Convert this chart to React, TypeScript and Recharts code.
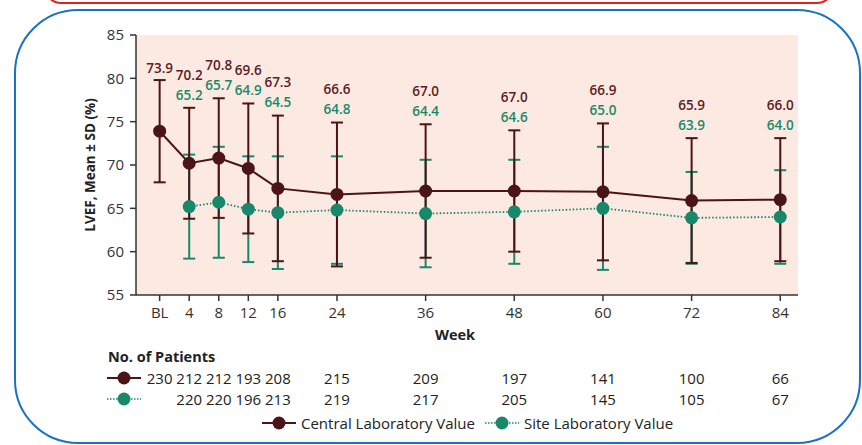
import { LineChart, Line, XAxis, YAxis, CartesianGrid, ErrorBar, LabelList } from "recharts";

// ================= DATA =================
const weeks = [0, 4, 8, 12, 16, 24, 36, 48, 60, 72, 84];
const centralMean = [73.9, 70.2, 70.8, 69.6, 67.3, 66.6, 67.0, 67.0, 66.9, 65.9, 66.0];
const centralSd = [5.9, 6.4, 6.9, 7.5, 8.4, 8.3, 7.7, 7.0, 7.9, 7.2, 7.1];
const siteMean = [null, 65.2, 65.7, 64.9, 64.5, 64.8, 64.4, 64.6, 65.0, 63.9, 64.0];
const siteSd = [null, 6.0, 6.4, 6.1, 6.5, 6.2, 6.2, 6.0, 7.1, 5.3, 5.4];
const centralN = [230, 212, 212, 193, 208, 215, 209, 197, 141, 100, 66];
const siteN = [null, 220, 220, 196, 213, 219, 217, 205, 145, 105, 67];
const yTicks = [55, 60, 65, 70, 75, 80, 85];

// ================= COLORS =================
const CENTRAL = "#4b1416";
const CENTRAL_TEXT = "#5a2126";
const SITE = "#17896a";
const AXIS = "#333333";
const FONT = "'Open Sans', sans-serif";

const data = weeks.map((week, i) => ({
  week,
  central: centralMean[i],
  centralErr: centralSd[i],
  site: siteMean[i],
  siteErr: siteSd[i],
  labelTop: centralMean[i] + centralSd[i],
}));

// value labels stacked above the top of the central error bar
// eslint-disable-next-line
function ValueLabels(props: any) {
  const { x, y, index } = props;
  const s = siteMean[index];
  const c = centralMean[index];
  return (
    <g fontSize={13.5} fontWeight={600} textAnchor="middle">
      {s != null && (
        <text x={x} y={y - 13} dy="0.35em" fill={SITE}>
          {s.toFixed(1)}
        </text>
      )}
      <text x={x} y={y - (s != null ? 33 : 12)} dy="0.35em" fill={CENTRAL_TEXT}>
        {c.toFixed(1)}
      </text>
    </g>
  );
}

function Marker({ color, dotted }: { color: string; dotted?: boolean }) {
  return (
    <svg width={34} height={14} style={{ display: "block" }}>
      <line
        x1={0}
        y1={7}
        x2={34}
        y2={7}
        stroke={color}
        strokeWidth={dotted ? 1.5 : 2}
        strokeDasharray={dotted ? "1.5 1.5" : undefined}
      />
      <circle cx={17} cy={7} r={6.5} fill={color} />
    </svg>
  );
}

export default function App() {
  const weekTick = (v: number) => (v === 0 ? "BL" : String(v));
  const nTick = (arr: (number | null)[]) => (v: number) => {
    const n = arr[weeks.indexOf(v)];
    return n == null ? "" : String(n);
  };

  return (
    <div
      style={{
        position: "absolute",
        left: 0,
        top: 0,
        width: 862,
        height: 445,
        overflow: "hidden",
        background: "#fff",
        fontFamily: FONT,
        color: "#222",
      }}
    >
      {/* frames */}
      <div
        style={{
          position: "absolute",
          left: 44,
          top: -30,
          width: 790,
          height: 34,
          border: "2.5px solid #e3211c",
          borderRadius: 22,
          boxSizing: "border-box",
        }}
      />
      <div
        style={{
          position: "absolute",
          left: 14,
          top: 9,
          width: 847,
          height: 435,
          border: "2.5px solid #1a72c4",
          borderRadius: 64,
          boxSizing: "border-box",
        }}
      />

      <div style={{ position: "absolute", left: 0, top: 0 }}>
        <LineChart
          width={862}
          height={445}
          data={data}
          margin={{ top: 35, right: 64, left: 80, bottom: 31 }}
        >
          <CartesianGrid horizontal={false} vertical={false} fill="#fce9e1" />
          <XAxis
            dataKey="week"
            type="number"
            domain={[-3.2, 86.4]}
            ticks={weeks}
            interval={0}
            tickFormatter={weekTick}
            height={78}
            tickSize={6}
            tickMargin={6}
            stroke={AXIS}
            strokeWidth={1.5}
            tick={{ fill: AXIS, fontSize: 15 }}
            label={({ viewBox }: any) => (
              <text
                x={viewBox.x + viewBox.width / 2 - 12}
                y={viewBox.y + 40}
                dy="0.35em"
                textAnchor="middle"
                fontSize={14.5}
                fontWeight={700}
                fill="#222"
              >
                Week
              </text>
            )}
          />
          <XAxis
            xAxisId="n1"
            dataKey="week"
            type="number"
            domain={[-3.2, 86.4]}
            ticks={weeks}
            interval={0}
            tickFormatter={nTick(centralN)}
            height={21}
            axisLine={false}
            tickLine={false}
            tickSize={0}
            tickMargin={0}
            tick={{ fill: "#222", fontSize: 15 }}
          />
          <XAxis
            xAxisId="n2"
            dataKey="week"
            type="number"
            domain={[-3.2, 86.4]}
            ticks={weeks}
            interval={0}
            tickFormatter={nTick(siteN)}
            height={20}
            axisLine={false}
            tickLine={false}
            tickSize={0}
            tickMargin={0}
            tick={{ fill: "#222", fontSize: 15 }}
          />
          <YAxis
            domain={[55, 85]}
            ticks={yTicks}
            width={56}
            tickSize={6}
            tickMargin={6}
            stroke={AXIS}
            strokeWidth={1.5}
            tick={{ fill: AXIS, fontSize: 15 }}
            label={({ viewBox }: any) => (
              <text
                x={viewBox.x + 10}
                y={viewBox.y + viewBox.height / 2}
                dy="0.35em"
                textAnchor="middle"
                fontSize={13.5}
                fontWeight={700}
                fill="#222"
                transform={`rotate(-90, ${viewBox.x + 10}, ${viewBox.y + viewBox.height / 2})`}
              >
                LVEF, Mean ± SD (%)
              </text>
            )}
          />

          {/* error bars only: site first so central sits on top */}
          <Line
            dataKey="site"
            stroke="none"
            dot={false}
            activeDot={false}
            isAnimationActive={false}
          >
            <ErrorBar dataKey="siteErr" direction="y" width={6} stroke={SITE} strokeWidth={2} />
          </Line>
          <Line
            dataKey="central"
            stroke="none"
            dot={false}
            activeDot={false}
            isAnimationActive={false}
          >
            <ErrorBar dataKey="centralErr" direction="y" width={6} stroke={CENTRAL} strokeWidth={2} />
          </Line>

          {/* series */}
          <Line
            dataKey="site"
            stroke={SITE}
            strokeWidth={1.8}
            strokeDasharray="1.5 2"
            dot={{ r: 6.5, fill: SITE, stroke: SITE, strokeWidth: 0 }}
            activeDot={false}
            isAnimationActive={false}
          />
          <Line
            dataKey="central"
            stroke={CENTRAL}
            strokeWidth={2}
            dot={{ r: 6.5, fill: CENTRAL, stroke: CENTRAL, strokeWidth: 0 }}
            activeDot={false}
            isAnimationActive={false}
          />

          {/* labels */}
          <Line
            dataKey="labelTop"
            stroke="none"
            dot={false}
            activeDot={false}
            isAnimationActive={false}
          >
            <LabelList dataKey="labelTop" content={<ValueLabels />} />
          </Line>
        </LineChart>
      </div>

      {/* patients table heading + row markers */}
      <div
        style={{
          position: "absolute",
          left: 108,
          top: 347,
          fontSize: 14.5,
          fontWeight: 700,
          lineHeight: "20px",
        }}
      >
        No. of Patients
      </div>
      <div style={{ position: "absolute", left: 107, top: 371 }}>
        <Marker color={CENTRAL} />
      </div>
      <div style={{ position: "absolute", left: 107, top: 392 }}>
        <Marker color={SITE} dotted />
      </div>

      {/* legend */}
      <div
        style={{
          position: "absolute",
          left: 262,
          top: 413,
          display: "flex",
          alignItems: "center",
          fontSize: 15,
          lineHeight: "20px",
        }}
      >
        <Marker color={CENTRAL} />
        <span style={{ marginLeft: 5, marginRight: 10 }}>Central Laboratory Value</span>
        <Marker color={SITE} dotted />
        <span style={{ marginLeft: 5 }}>Site Laboratory Value</span>
      </div>
    </div>
  );
}
